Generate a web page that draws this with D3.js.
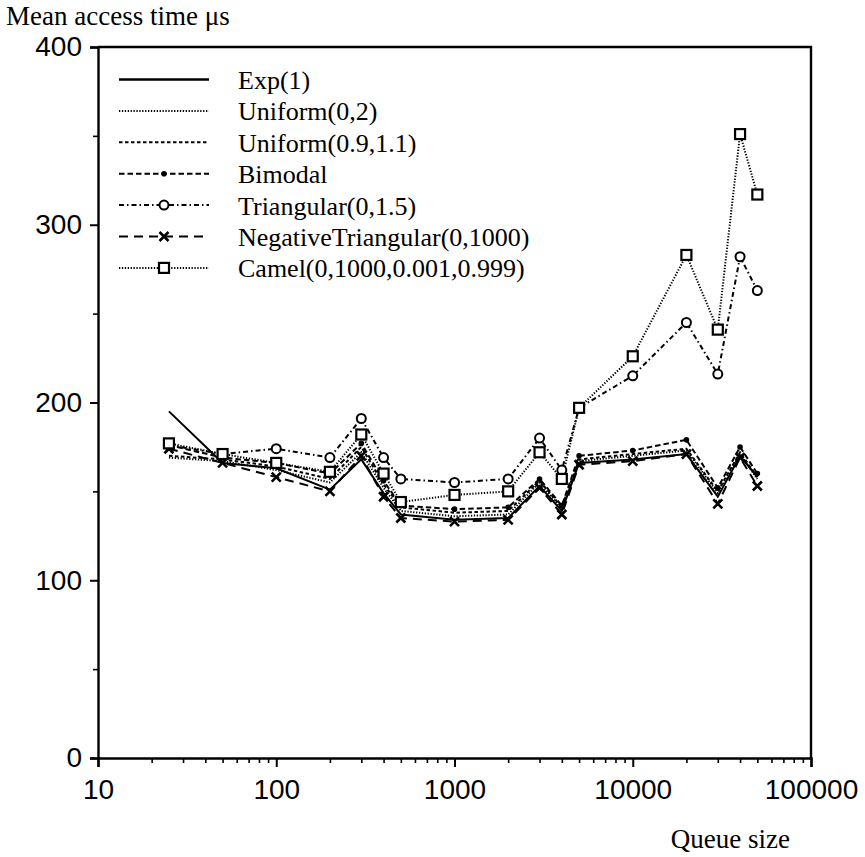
<!DOCTYPE html>
<html>
<head>
<meta charset="utf-8">
<script src="https://cdn.jsdelivr.net/npm/d3@7"></script>
<style>
  body { margin: 0; background: #fff; }
  svg { display: block; }
</style>
</head>
<body>
<div id="chart"></div>
<script>
  // queue sizes (x) and mean access time per distribution (y, µs)
  const queueSizes = [25, 50, 100, 200, 300, 400, 500, 1000, 2000, 3000, 4000, 5000, 10000, 20000, 30000, 40000, 50000];
  const expVals     = [195, 166, 163, 151, 168, 149, 137, 134, 135, 153, 139, 166, 168, 171, 147, 170, 158];
  const uni02Vals   = [169, 167, 162, 155, 172, 152, 139, 136, 137, 155, 140, 167, 170, 173, 149, 171, 157];
  const uni0911Vals = [170, 168, 164, 157, 175, 154, 141, 138, 139, 156, 141, 168, 171, 174, 150, 172, 158];
  const bimodalVals = [176, 169, 166, 160, 177, 156, 142, 140, 141, 157, 142, 170, 173, 179, 152, 175, 160];
  const triVals     = [176, 171, 174, 169, 191, 169, 157, 155, 157, 180, 162, 197, 215, 245, 216, 282, 263];
  const negTriVals  = [174, 166, 158, 150, 170, 147, 135, 133, 134, 152, 137, 165, 167, 171, 143, 169, 153];
  const camelVals   = [177, 171, 166, 161, 182, 160, 144, 148, 150, 172, 157, 197, 226, 283, 241, 351, 317];

  const seriesNames = ["Exp(1)", "Uniform(0,2)", "Uniform(0.9,1.1)", "Bimodal",
    "Triangular(0,1.5)", "NegativeTriangular(0,1000)", "Camel(0,1000,0.001,0.999)"];
  const xMajorTicks = [10, 100, 1000, 10000, 100000];
  const yMajorTicks = [0, 100, 200, 300, 400];
  const yMinorTicks = [50, 150, 250, 350];

  const series = [
    { name: seriesNames[0], vals: expVals,     dash: null,        marker: null },
    { name: seriesNames[1], vals: uni02Vals,   dash: "1.3,1.6",   marker: null },
    { name: seriesNames[2], vals: uni0911Vals, dash: "3.5,2.5",   marker: null },
    { name: seriesNames[3], vals: bimodalVals, dash: "5.5,3",     marker: "dot" },
    { name: seriesNames[4], vals: triVals,     dash: "5,3,1.5,3", marker: "circle" },
    { name: seriesNames[5], vals: negTriVals,  dash: "9,6",       marker: "cross" },
    { name: seriesNames[6], vals: camelVals,   dash: "1.3,1.6",   marker: "square" }
  ];

  const W = 865, H = 857;
  const pLeft = 98, pRight = 811, pTop = 47, pBottom = 758;

  const svg = d3.select("#chart").append("svg")
    .attr("width", W).attr("height", H);

  const x = d3.scaleLog().domain([10, 100000]).range([pLeft, pRight]);
  const y = d3.scaleLinear().domain([0, 400]).range([pBottom, pTop]);

  const sans = "'Liberation Sans', Arial, sans-serif";
  const serif = "'Liberation Serif', 'Times New Roman', serif";

  // minor x ticks
  const xMinor = [];
  xMajorTicks.slice(0, -1).forEach(d => {
    for (let k = 2; k <= 9; k++) xMinor.push(d * k);
  });

  svg.append("g")
    .attr("transform", `translate(0,${pBottom})`)
    .call(d3.axisBottom(x).tickValues(xMinor).tickSize(5).tickFormat(""))
    .call(g => g.select(".domain").remove())
    .call(g => g.selectAll(".tick line").attr("stroke-width", 1.6));

  svg.append("g")
    .attr("transform", `translate(0,${pBottom})`)
    .call(d3.axisBottom(x).tickValues(xMajorTicks).tickSize(9).tickPadding(12)
      .tickFormat(d3.format("d")))
    .call(g => g.select(".domain").attr("stroke-width", 2.4))
    .call(g => g.selectAll(".tick line").attr("stroke-width", 2))
    .call(g => g.selectAll("text")
      .style("font-family", sans).style("font-size", "28px").attr("fill", "#000"));

  svg.append("g")
    .attr("transform", `translate(${pLeft},0)`)
    .call(d3.axisLeft(y).tickValues(yMinorTicks).tickSize(5).tickFormat(""))
    .call(g => g.select(".domain").remove())
    .call(g => g.selectAll(".tick line").attr("stroke-width", 1.6));

  svg.append("g")
    .attr("transform", `translate(${pLeft},0)`)
    .call(d3.axisLeft(y).tickValues(yMajorTicks).tickSize(8).tickPadding(8))
    .call(g => g.select(".domain").attr("stroke-width", 2.4))
    .call(g => g.selectAll(".tick line").attr("stroke-width", 2))
    .call(g => g.selectAll("text")
      .style("font-family", sans).style("font-size", "28px").attr("fill", "#000"));

  // frame top + right
  svg.append("path")
    .attr("d", `M${pLeft},${pTop}H${pRight}V${pBottom}`)
    .attr("fill", "none").attr("stroke", "#000").attr("stroke-width", 2.4);

  const line = d3.line()
    .x((d, i) => x(queueSizes[i]))
    .y(d => y(d));

  function drawMarker(g, type, cx, cy) {
    if (type === "dot") {
      g.append("circle").attr("cx", cx).attr("cy", cy).attr("r", 2.8).attr("fill", "#000");
    } else if (type === "circle") {
      g.append("circle").attr("cx", cx).attr("cy", cy).attr("r", 4.5)
        .attr("fill", "#fff").attr("stroke", "#000").attr("stroke-width", 2);
    } else if (type === "square") {
      g.append("rect").attr("x", cx - 5).attr("y", cy - 5).attr("width", 10).attr("height", 10)
        .attr("fill", "#fff").attr("stroke", "#000").attr("stroke-width", 2.2);
    } else if (type === "cross") {
      g.append("path").attr("d", `M${cx - 4.5},${cy - 4.5}L${cx + 4.5},${cy + 4.5}M${cx - 4.5},${cy + 4.5}L${cx + 4.5},${cy - 4.5}`)
        .attr("stroke", "#000").attr("stroke-width", 2.6);
    }
  }

  const plot = svg.append("g");
  series.forEach(s => {
    plot.append("path")
      .attr("d", line(s.vals))
      .attr("fill", "none")
      .attr("stroke", "#000")
      .attr("stroke-width", 2)
      .attr("stroke-dasharray", s.dash);
  });
  series.forEach(s => {
    if (!s.marker) return;
    const g = plot.append("g");
    s.vals.forEach((v, i) => drawMarker(g, s.marker, x(queueSizes[i]), y(v)));
  });

  // legend
  const legend = svg.append("g");
  series.forEach((s, i) => {
    const ly = 79.5 + i * 31.4;
    legend.append("line")
      .attr("x1", 119).attr("x2", 209).attr("y1", ly).attr("y2", ly)
      .attr("stroke", "#000").attr("stroke-width", s.dash ? 2 : 2.4)
      .attr("stroke-dasharray", s.dash);
    if (s.marker) drawMarker(legend, s.marker, 164, ly);
    legend.append("text")
      .attr("x", 238).attr("y", ly + 9.5)
      .style("font-family", serif).style("font-size", "26px")
      .text(s.name);
  });

  svg.append("text")
    .attr("x", 6).attr("y", 25)
    .style("font-family", serif).style("font-size", "27px")
    .text("Mean access time \u03bcs");

  svg.append("text")
    .attr("x", 790).attr("y", 848)
    .attr("text-anchor", "end")
    .style("font-family", serif).style("font-size", "27px")
    .text("Queue size");
</script>
</body>
</html>
